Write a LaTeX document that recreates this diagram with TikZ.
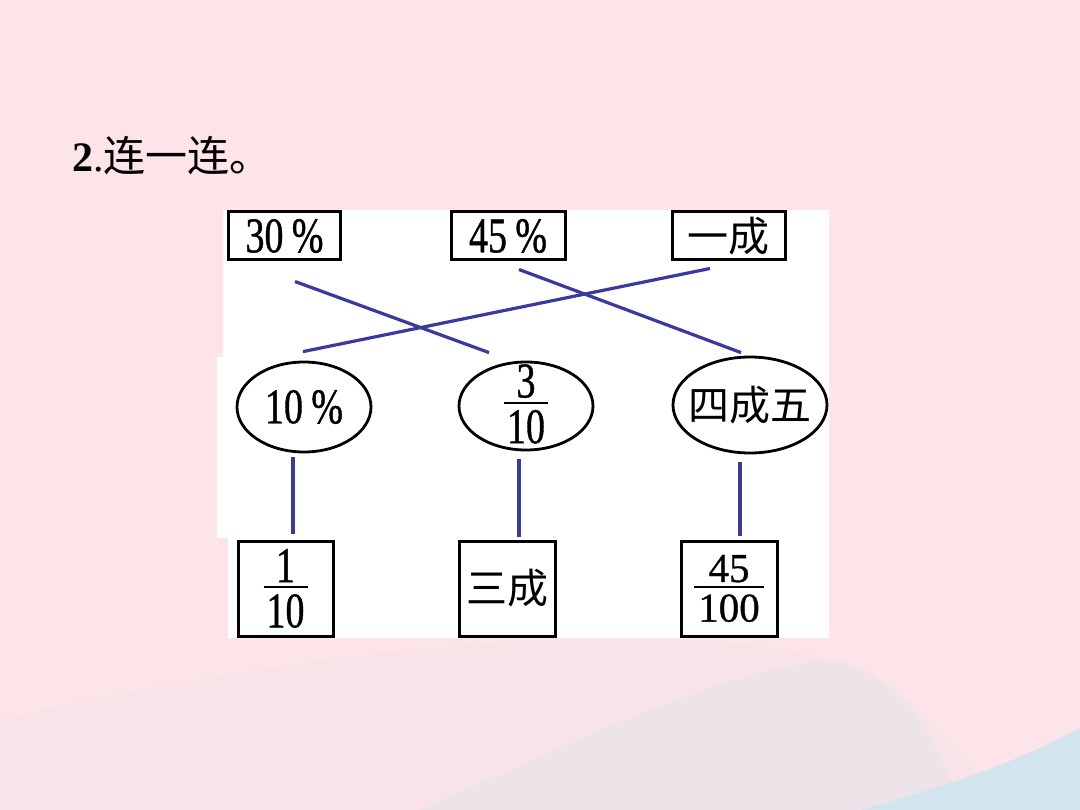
\documentclass[tikz,border=0pt]{standalone}
\usepackage{fontspec}
\setmainfont{Liberation Serif}
\newfontfamily\condf[FakeStretch=0.76,FakeBold=0.8]{Liberation Serif}
\newfontfamily\fracf[FakeBold=0.8]{Liberation Serif}
\newfontfamily\cjk{Noto Sans CJK SC}
\usetikzlibrary{shapes.geometric}
\definecolor{bgpink}{HTML}{FCE4E8}
\definecolor{wavec}{HTML}{EEE2EA}
\definecolor{blueco}{HTML}{D2E4EE}
\definecolor{linkc}{HTML}{3A3A9E}
\newcommand\myfrac[3]{\vbox{\offinterlineskip\halign{\hfil##\hfil\cr #1\cr\noalign{\kern4pt}\rule{#3}{2pt}\cr\noalign{\kern6pt}#2\cr}}}
\tikzset{
  box/.style={draw=black, line width=3pt, fill=white, inner sep=0pt, rectangle},
  topbox/.style={box, minimum width=112pt, minimum height=48pt},
  botbox/.style={box, minimum width=95pt, minimum height=95pt},
  ell/.style={draw=black, line width=2.8pt, ellipse, inner sep=0pt},
  pct/.style={font=\condf\fontsize{50}{50}\selectfont},
  zh/.style={font=\cjk\fontsize{41}{41}\selectfont},
  conn/.style={draw=linkc, line width=3.2pt},
}
\begin{document}
\begin{tikzpicture}[x=1pt,y=-1pt]
\useasboundingbox (0,0) rectangle (1080,810);
% background
\fill[bgpink] (0,0) rectangle (1080,810);
\fill[wavec, opacity=0.35] (0,720) .. controls (250,660) and (560,620) .. (790,650) .. controls (900,670) and (960,740) .. (1000,810) -- (0,810) -- cycle;
\fill[wavec!70!blueco, opacity=0.55] (420,810) .. controls (580,740) and (720,670) .. (830,660) .. controls (900,670) and (940,740) .. (960,810) -- cycle;
\fill[blueco] (860,810) .. controls (950,785) and (1010,765) .. (1080,728) -- (1080,810) -- cycle;
% white panel
\fill[white] (223,210) -- (829,210) -- (829,638) -- (228,638) -- (228,538) -- (217,538) -- (217,357) -- (223,357) -- cycle;
% title
\node[anchor=base west, inner sep=0pt, font=\fontsize{42}{42}\selectfont] (title) at (72,172) {\textbf{2}.\cjk 连一连。};
% top boxes
\node[topbox] (n30) at (284.5,236) {};
\node[pct] (t30) at (n30) {30\,\%};
\node[topbox, minimum width=114pt] (n45) at (508,236) {};
\node[pct] (t45) at (n45) {45\,\%};
\node[topbox, minimum width=113pt] (n1c) at (728.5,236) {};
\node[zh] (t1c) at (n1c) {一成};
% ellipses
\node[ell, minimum width=134pt, minimum height=90pt] (e1) at (304,407) {};
\node[pct] (te1) at (e1) {10\,\%};
\node[ell, minimum width=134pt, minimum height=88pt] (e2) at (526,406) {};
\node[pct, inner sep=0pt] (te2) at ([yshift=2pt]e2.center) {\myfrac{3}{10}{44pt}};
\node[ell, minimum width=154pt, minimum height=96pt] (e3) at (750,405) {};
\node[zh] (te3) at (e3) {四成五};
% bottom boxes
\node[botbox] (b1) at (285.5,588.5) {};
\node[pct, inner sep=0pt] (tb1) at (b1) {\myfrac{1}{10}{44pt}};
\node[botbox, minimum width=96pt] (b2) at (507,588.5) {};
\node[zh] (tb2) at (b2) {三成};
\node[botbox, minimum width=96pt] (b3) at (729,588.5) {};
\node[inner sep=0pt, font=\fracf\fontsize{41}{41}\selectfont] (tb3) at (b3) {\myfrac{45}{100}{70pt}};
% connectors
\draw[conn] ([shift={(10.5,20)}]n30.south) -- ([shift={(-37,-8)}]e2.north);
\draw[conn] ([shift={(11,8)}]n45.south) -- ([shift={(-9,-3)}]e3.north);
\draw[conn] ([shift={(-18.5,7)}]n1c.south) -- ([shift={(-1,-9)}]e1.north);
\draw[conn] ([shift={(-11,4)}]e1.south) -- ([shift={(7.5,-6)}]b1.north);
\draw[conn] ([shift={(-7,8)}]e2.south) -- ([shift={(12,-3)}]b2.north);
\draw[conn] ([shift={(-10,8)}]e3.south) -- ([shift={(11,-4)}]b3.north);
\end{tikzpicture}
\end{document}
